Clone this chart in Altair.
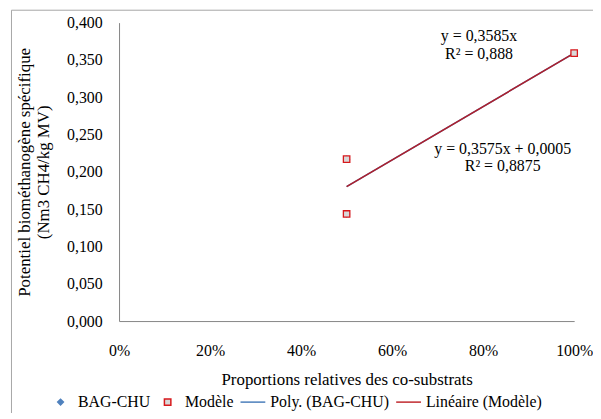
import altair as alt
import pandas as pd

# ---- data ----
series_names = ["BAG-CHU", "Modèle", "Poly. (BAG-CHU)", "Linéaire (Modèle)"]
proportions = [0.5, 0.5, 1.0]
bag_chu_values = [0.217, 0.1435, 0.359]
modele_values = [0.217, 0.1435, 0.359]
y_ticks = [0.0, 0.05, 0.10, 0.15, 0.20, 0.25, 0.30, 0.35, 0.40]
x_ticks = [0.0, 0.2, 0.4, 0.6, 0.8, 1.0]
eq_labels = ["y = 0,3585x\nR² = 0,888", "y = 0,3575x + 0,0005\nR² = 0,8875"]
eq_x = [0.791, 0.843]
eq_y = [0.3815, 0.2311]

FONT = "Liberation Serif"
FS = 16
W, H = 459, 301
PAD_L, PAD_T = 112, 13
TOTAL_W, TOTAL_H = 590, 405
SYM = 625  # common symbol size: legend slot 25px wide

# symbol shapes (unit box -1..1, scaled by sqrt(size)/2)
DIAMOND = "M0,-0.23L0.23,0L0,0.23L-0.23,0Z"
SQUARE = "M-0.26,-0.26H0.26V0.26H-0.26Z"

points = pd.DataFrame({
    "x": proportions + proportions,
    "y": bag_chu_values + modele_values,
    "series": [series_names[0]] * 3 + [series_names[1]] * 3,
})
ann = pd.DataFrame({"x": eq_x, "y": eq_y, "label": eq_labels})
frame_df = pd.DataFrame({"k": [0]})

xscale = alt.Scale(domain=[0, 1], nice=False)
yscale = alt.Scale(domain=[0, 0.4], nice=False)

x_enc = alt.X("x:Q", scale=xscale, axis=alt.Axis(
    values=x_ticks, format=".0%", ticks=False, grid=False, labelFlush=False,
    labelOverlap=False, domainColor="#868686", labelPadding=22, titlePadding=13,
    title="Proportions relatives des co-substrats"))
y_enc = alt.Y("y:Q", scale=yscale, axis=alt.Axis(
    values=y_ticks, labelExpr="replace(format(datum.value, '.3f'), '.', ',')",
    ticks=False, grid=False, labelOverlap=False, domainColor="#868686",
    labelPadding=17, titlePadding=14,
    title=["Potentiel biométhanogène spécifique", "(Nm3 CH4/kg MV)"]))

base = alt.Chart(points)

line_bag = base.transform_filter(alt.datum.series == series_names[0]).transform_regression(
    "x", "y", method="linear").mark_line(color="#4A7EBB", strokeWidth=1.5).encode(x=x_enc, y=y_enc)
line_mod = base.transform_filter(alt.datum.series == series_names[1]).transform_regression(
    "x", "y", method="linear").mark_line(color="#B01E2A", strokeWidth=1.5).encode(x=x_enc, y=y_enc)

pts = base.mark_point(opacity=1, strokeWidth=1.3, size=SYM).encode(
    x=x_enc, y=y_enc,
    shape=alt.Shape("series:N", title=None, scale=alt.Scale(
        domain=series_names, range=[DIAMOND, SQUARE, "stroke", "stroke"])),
    fill=alt.Fill("series:N", title=None, scale=alt.Scale(
        domain=series_names, range=["#4F81BD", "#D9D9D9", "transparent", "transparent"])),
    stroke=alt.Stroke("series:N", title=None, scale=alt.Scale(
        domain=series_names, range=["#4F81BD", "#D7191C", "#4A7EBB", "#C0282D"])),
)

text = alt.Chart(ann).mark_text(font=FONT, fontSize=FS, lineBreak="\n", lineHeight=18,
                                align="center", baseline="middle", color="black").encode(
    x=x_enc, y=y_enc, text="label:N")

frame = alt.Chart(frame_df).mark_rect(fill="transparent", stroke="#A6A6A6", strokeWidth=1).encode(
    x=alt.value(-108.5), x2=alt.value(800), y=alt.value(-12.5), y2=alt.value(800))

chart = alt.layer(frame, line_bag, line_mod, pts, text).properties(
    width=W, height=H,
    autosize=alt.AutoSizeParams(type="none"),
    padding={"left": PAD_L, "top": PAD_T, "right": TOTAL_W - PAD_L - W, "bottom": TOTAL_H - PAD_T - H},
).configure(font=FONT).configure_view(stroke="transparent").configure_axis(
    labelFont=FONT, labelFontSize=FS, labelColor="black",
    titleFont=FONT, titleFontSize=17, titleColor="black", titleFontWeight="normal",
    domainWidth=1,
).configure_legend(
    orient="none", legendX=-72.5, legendY=369, direction="horizontal", columns=4,
    labelFont=FONT, labelFontSize=FS, labelColor="black", labelOffset=4,
    columnPadding=4, symbolOpacity=1, symbolStrokeWidth=1.5, symbolSize=SYM, padding=0,
)

chart.save("out.html", embed_options={"renderer": "svg", "actions": False})
